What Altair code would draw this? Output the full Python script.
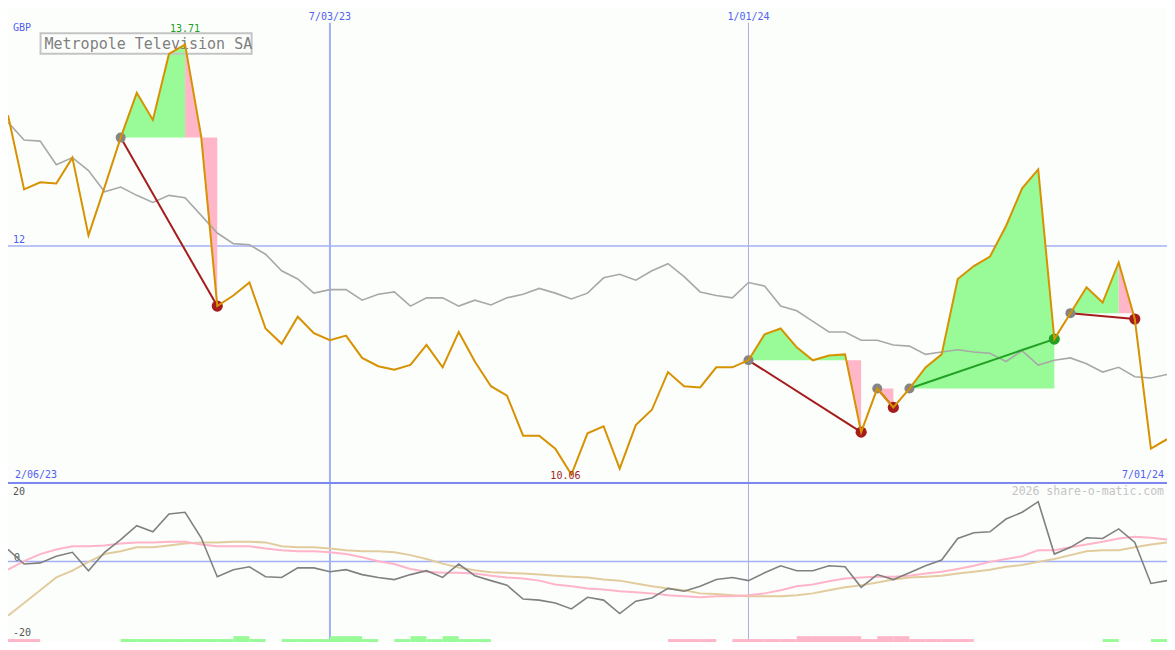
import altair as alt
import pandas as pd

# ---------------- data ----------------
price = [13.11, 12.48, 12.54, 12.53, 12.75, 12.09, 12.50, 12.92, 13.30, 13.07,
         13.63, 13.71, 12.93, 11.49, 11.58, 11.69, 11.30, 11.17, 11.40, 11.26,
         11.20, 11.24, 11.05, 10.98, 10.95, 10.99, 11.16, 10.97, 11.27, 11.02,
         10.81, 10.73, 10.39, 10.39, 10.28, 10.06, 10.41, 10.47, 10.11, 10.48,
         10.61, 10.93, 10.81, 10.80, 10.97, 10.97, 11.03, 11.25, 11.30, 11.14,
         11.03, 11.07, 11.08, 10.42, 10.79, 10.63, 10.79, 10.97, 11.08, 11.72,
         11.83, 11.91, 12.17, 12.49, 12.65, 11.21, 11.43, 11.65, 11.52, 11.86,
         11.38, 10.28, 10.36]

moving_avg = [13.05, 12.90, 12.89, 12.69, 12.75, 12.64, 12.46, 12.50, 12.43, 12.37,
              12.43, 12.41, 12.26, 12.11, 12.02, 12.01, 11.93, 11.79, 11.72, 11.60,
              11.63, 11.63, 11.54, 11.59, 11.61, 11.49, 11.56, 11.56, 11.49, 11.54,
              11.50, 11.56, 11.59, 11.64, 11.60, 11.55, 11.60, 11.73, 11.76, 11.71,
              11.79, 11.85, 11.74, 11.61, 11.58, 11.56, 11.69, 11.66, 11.49, 11.45,
              11.36, 11.27, 11.27, 11.20, 11.20, 11.16, 11.15, 11.08, 11.10, 11.12,
              11.10, 11.09, 11.02, 11.11, 10.99, 11.03, 11.05, 11.00, 10.93, 10.97,
              10.89, 10.88, 10.91]

momentum = [3.4, -0.7, -0.4, 1.5, 2.6, -2.6, 2.6, 6.2, 10.1, 8.4,
            13.4, 13.9, 6.7, -4.3, -2.3, -1.5, -4.3, -4.5, -1.8, -1.8,
            -2.9, -2.3, -3.7, -4.5, -5.1, -3.7, -2.6, -4.5, -0.7, -4.0,
            -5.4, -6.7, -10.6, -10.9, -11.7, -13.4, -10.1, -10.9, -14.7, -11.2,
            -10.3, -7.6, -8.4, -7.0, -5.1, -4.5, -5.4, -3.2, -1.2, -2.6,
            -2.6, -1.2, -1.5, -7.3, -3.7, -5.1, -3.2, -1.2, 0.4, 6.5,
            8.1, 8.4, 12.0, 13.9, 16.9, 2.1, 4.0, 6.7, 6.5, 9.2,
            5.4, -6.2, -5.4]

momentum_fast = [-2.3, 0.1, 2.1, 3.4, 4.3, 4.3, 4.5, 5.1, 5.4, 5.4,
                 5.6, 5.6, 4.8, 4.3, 4.3, 4.3, 3.7, 3.2, 2.9, 2.9,
                 2.6, 2.1, 1.2, 0.1, -0.7, -2.1, -2.9, -3.2, -3.2, -3.4,
                 -4.0, -4.5, -4.8, -5.4, -6.5, -7.0, -7.6, -7.9, -8.4, -8.7,
                 -9.0, -9.5, -9.8, -10.1, -9.8, -9.8, -9.5, -9.0, -8.1, -7.0,
                 -6.5, -5.6, -4.8, -4.5, -4.3, -4.3, -4.0, -3.4, -2.9, -2.1,
                 -1.2, -0.1, 0.7, 1.5, 3.2, 3.2, 4.0, 4.8, 5.6, 6.5,
                 7.0, 6.7, 6.2]

momentum_slow = [-15.3, -11.7, -8.1, -4.5, -2.6, -0.1, 2.1, 2.9, 4.0, 4.0,
                 4.5, 5.1, 5.4, 5.4, 5.6, 5.6, 5.4, 4.3, 4.0, 4.0,
                 3.7, 3.2, 2.9, 2.9, 2.6, 1.8, 0.7, -0.6, -1.7, -2.5,
                 -3.0, -3.2, -3.4, -3.7, -4.0, -4.3, -4.5, -5.1, -5.4, -6.2,
                 -7.0, -7.6, -8.1, -9.0, -9.2, -9.5, -9.8, -9.8, -9.8, -9.5,
                 -9.0, -8.1, -7.3, -6.7, -5.9, -5.1, -4.5, -4.3, -4.0, -3.4,
                 -2.9, -2.3, -1.5, -1.0, -0.1, 0.7, 1.8, 2.9, 3.2, 3.2,
                 4.0, 4.8, 5.4]

# weekly signal strip (+ = green, - = pink, 2 = tall)
signal = [-1, -1, 0, 0, 0, 0, 0, 1, 1, 1,
          1, 1, 1, 1, 2, 1, 0, 1, 1, 1,
          2, 2, 1, 0, 1, 2, 1, 2, 1, 1,
          0, 0, 0, 0, 0, 0, 0, 0, 0, 0,
          0, -1, -1, -1, 0, -1, -1, -1, -1, -2,
          -2, -2, -2, -1, -2, -2, -1, -1, -1, -1,
          0, 0, 0, 0, 0, 0, 0, 0, 1, 0,
          0, 1]

buy_idx = [7, 46, 54, 56, 66]
sell_idx = [13, 53, 55, 65, 70]
gain_end_idx = [11, 52, 54, 65, 69]

title_text = "Metropole Television SA"
currency = "GBP"
start_label = "2/06/23"
end_label = "7/01/24"
date_marks = ["2023-07-03", "2024-01-01"]
date_mark_labels = ["7/03/23", "1/01/24"]
price_tick = 12
mom_ticks = [20, -20]
credit = "2026 share-o-matic.com"

dates = pd.date_range("2023-02-13", periods=len(price), freq="7D")

# ---------------- layout / style ----------------
W, H = 1159, 634
SX, SY = W / 1175, H / 650
FONT = "DejaVu Sans Mono"
BLUE = "#5060f0"
BG = "#fcfefc"
GREEN_FILL = "#98fb98"
PINK_FILL = "#ffb6c8"
LOSS = "#a41c1c"
WIN = "#22a022"

x_scale = alt.Scale(domain=[alt.DateTime(year=2023, month=2, date=13),
                            alt.DateTime(year=2024, month=7, date=1)], nice=False)
price_scale = alt.Scale(domain=[8.639, 14.02], nice=False, zero=False)
mom_scale = alt.Scale(domain=[-22.73, 156.3], nice=False, zero=False)
sig_scale = alt.Scale(domain=[0, 650 / 3], nice=False, zero=True)


def X(field="date"):
    return alt.X(f"{field}:T", scale=x_scale, axis=None)


def YP(field):
    return alt.Y(f"{field}:Q", scale=price_scale, axis=None)


def YM(field):
    return alt.Y(f"{field}:Q", scale=mom_scale, axis=None)


main = pd.DataFrame({"date": dates, "price": price, "ma": moving_avg,
                     "mom": momentum, "fast": momentum_fast, "slow": momentum_slow})

# fill areas between price and entry level of each trade
fill_rows = []
for t, (b, g, s) in enumerate(zip(buy_idx, gain_end_idx, sell_idx)):
    entry = price[b]
    for kind, lo, hi in (("gain", b, g), ("loss", g, s)):
        if hi > lo:
            for i in range(lo, hi + 1):
                fill_rows.append({"date": dates[i], "price": price[i], "entry": entry,
                                  "seg": f"{t}-{kind}", "kind": kind})
fill = pd.DataFrame(fill_rows)

sig = pd.DataFrame([{"start": dates[i], "end": dates[i + 1], "level": abs(v), "base": 0,
                     "kind": "gain" if v > 0 else "loss"}
                    for i, v in enumerate(signal) if v != 0])

trade_rows, buys, sells = [], [], []
for t, (b, s) in enumerate(zip(buy_idx, sell_idx)):
    outcome = "win" if price[s] > price[b] else "loss"
    trade_rows.append({"date": dates[b], "price": price[b], "trade": t, "outcome": outcome})
    trade_rows.append({"date": dates[s], "price": price[s], "trade": t, "outcome": outcome})
    buys.append({"date": dates[b], "price": price[b]})
    sells.append({"date": dates[s], "price": price[s], "outcome": outcome})
trades = pd.DataFrame(trade_rows)
buys = pd.DataFrame(buys)
sells = pd.DataFrame(sells)

kind_color = alt.Color("kind:N", scale=alt.Scale(domain=["gain", "loss"], range=[GREEN_FILL, PINK_FILL]), legend=None)
out_color = alt.Color("outcome:N", scale=alt.Scale(domain=["win", "loss"], range=[WIN, LOSS]), legend=None)

vd = pd.DataFrame({"date": pd.to_datetime(date_marks), "label": date_mark_labels})
one = pd.DataFrame({"a": [0]})

# ---------------- layers ----------------
hline_price = alt.Chart(pd.DataFrame({"v": [price_tick]})).mark_rule(
    color="#a4b0f4", strokeWidth=1.5).encode(y=YP("v"))
hline_zero = alt.Chart(pd.DataFrame({"v": [0]})).mark_rule(
    color="#a4b0f4", strokeWidth=1.5).encode(y=YM("v"))
vline1 = alt.Chart(vd.iloc[[0]]).mark_rule(color="#a4b0f4", strokeWidth=2).encode(
    x=X(), y=alt.value(15 * SY), y2=alt.value(H))
vline2 = alt.Chart(vd.iloc[[1]]).mark_rule(color="#aab0e0", strokeWidth=1).encode(
    x=X(), y=alt.value(15 * SY), y2=alt.value(H))
divider = alt.Chart(one).mark_rule(color="#7a88f0", strokeWidth=2).encode(
    x=alt.value(0), x2=alt.value(W), y=alt.value(487 * SY))

areas = alt.Chart(fill).mark_area(interpolate="linear", opacity=1).encode(
    x=X(), y=YP("price"), y2="entry:Q", color=kind_color, detail="seg:N")

bars = alt.Chart(sig).mark_rect().encode(
    x=X("start"), x2="end:T",
    y=alt.Y("level:Q", scale=sig_scale, axis=None), y2="base:Q", color=kind_color)

slow_line = alt.Chart(main).mark_line(color="#e2cc9e", strokeWidth=2).encode(x=X(), y=YM("slow"))
fast_line = alt.Chart(main).mark_line(color="#ffb4c8", strokeWidth=2).encode(x=X(), y=YM("fast"))
mom_line = alt.Chart(main).mark_line(color="#808080", strokeWidth=1.6).encode(x=X(), y=YM("mom"))
ma_line = alt.Chart(main).mark_line(color="#a8a8a8", strokeWidth=1.6).encode(x=X(), y=YP("ma"))

title_box = alt.Chart(one).mark_rect(fill="transparent", stroke="#c4c4c4", strokeWidth=2).encode(
    x=alt.value(33 * SX), x2=alt.value(247 * SX), y=alt.value(26 * SY), y2=alt.value(47 * SY))
title_txt = alt.Chart(pd.DataFrame({"t": [title_text]})).mark_text(
    font=FONT, fontSize=15, color="#808080", align="left", baseline="middle").encode(
    text="t:N", x=alt.value(37 * SX), y=alt.value(37 * SY))

trade_lines = alt.Chart(trades).mark_line(strokeWidth=2).encode(
    x=X(), y=YP("price"), detail="trade:N", color=out_color)
buy_dots = alt.Chart(buys).mark_circle(size=100, opacity=1, color="#858585").encode(x=X(), y=YP("price"))
sell_dots = alt.Chart(sells).mark_circle(size=125, opacity=1).encode(x=X(), y=YP("price"), color=out_color)

price_line = alt.Chart(main).mark_line(color="#d69200", strokeWidth=2).encode(x=X(), y=YP("price"))

imax = price.index(max(price))
imin = price.index(min(price))
hi_lbl = alt.Chart(pd.DataFrame({"date": [dates[imax]], "price": [price[imax]], "t": [f"{price[imax]:.2f}"]})
                   ).mark_text(font=FONT, fontSize=10, color="#20a020", baseline="middle", dy=-16).encode(
    x=X(), y=YP("price"), text="t:N")
lo_lbl = alt.Chart(pd.DataFrame({"date": [dates[imin]], "price": [price[imin]], "t": [f"{price[imin]:.2f}"]})
                   ).mark_text(font=FONT, fontSize=10, color="#a41c1c", baseline="middle", dx=-6, dy=1).encode(
    x=X(), y=YP("price"), text="t:N")

top_dates = alt.Chart(vd).mark_text(font=FONT, fontSize=10, color=BLUE, baseline="middle").encode(
    x=X(), y=alt.value(9 * SY), text="label:N")
cur_lbl = alt.Chart(pd.DataFrame({"t": [currency]})).mark_text(
    font=FONT, fontSize=10, color=BLUE, align="left", baseline="middle").encode(
    text="t:N", x=alt.value(5 * SX), y=alt.value(20 * SY))
tick_lbl = alt.Chart(pd.DataFrame({"v": [price_tick], "t": [str(price_tick)]})).mark_text(
    font=FONT, fontSize=10, color=BLUE, align="left", baseline="middle", dy=-6).encode(
    text="t:N", x=alt.value(5 * SX), y=YP("v"))
start_lbl = alt.Chart(pd.DataFrame({"t": [start_label]})).mark_text(
    font=FONT, fontSize=10, color=BLUE, align="left", baseline="middle").encode(
    text="t:N", x=alt.value(7 * SX), y=alt.value(479 * SY))
end_lbl = alt.Chart(pd.DataFrame({"t": [end_label]})).mark_text(
    font=FONT, fontSize=10, color=BLUE, align="right", baseline="middle").encode(
    text="t:N", x=alt.value(1172 * SX), y=alt.value(479 * SY))
credit_lbl = alt.Chart(pd.DataFrame({"t": [credit]})).mark_text(
    font=FONT, fontSize=11.5, color="#c4c4c4", align="right", baseline="middle").encode(
    text="t:N", x=alt.value(1172 * SX), y=alt.value(496 * SY))
mom_lbl = alt.Chart(pd.DataFrame({"v": mom_ticks, "t": [str(v) for v in mom_ticks]})).mark_text(
    font=FONT, fontSize=10, color="#555555", align="left", baseline="middle", dy=1).encode(
    text="t:N", x=alt.value(5 * SX), y=YM("v"))
zero_lbl = alt.Chart(pd.DataFrame({"v": [0], "t": ["0"]})).mark_text(
    font=FONT, fontSize=10, color="#555555", align="left", baseline="middle", dy=-4).encode(
    text="t:N", x=alt.value(6 * SX), y=YM("v"))

chart = alt.layer(
    zero_lbl,
    hline_price, hline_zero, vline1, vline2, divider,
    areas, bars,
    slow_line, fast_line, mom_line, ma_line,
    title_box, title_txt,
    trade_lines, buy_dots, sell_dots,
    price_line,
    hi_lbl, lo_lbl, top_dates, cur_lbl, tick_lbl, start_lbl, end_lbl, credit_lbl, mom_lbl,
).resolve_scale(y="independent", color="independent").properties(
    width=W, height=H, padding=0, background=BG,
    autosize=alt.AutoSizeParams(type="none"),
).configure_view(stroke=None)

chart.save("out.html", embed_options={"renderer": "svg", "actions": False})
